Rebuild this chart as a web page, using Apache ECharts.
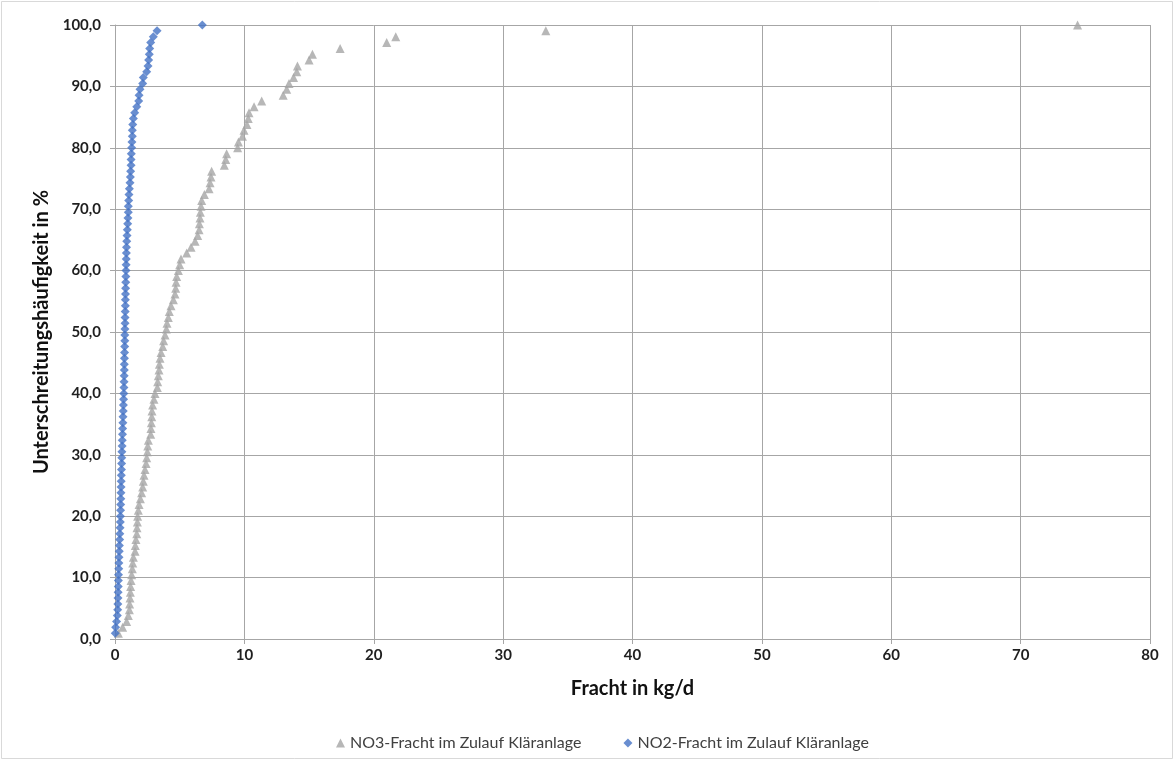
<!DOCTYPE html>
<html>
<head>
<meta charset="utf-8">
<script src="https://cdn.jsdelivr.net/npm/echarts@6/dist/echarts.min.js"></script>
<style>
html,body{margin:0;padding:0;background:#fff;}
#c{width:1174px;height:760px;}
</style>
</head>
<body>
<div id="c"></div>
<script>
// Percentile rank (Unterschreitungshäufigkeit in %) of each sorted sample
const percent = [0.95, 1.9, 2.86, 3.81, 4.76, 5.71, 6.67, 7.62, 8.57, 9.52,
  10.48, 11.43, 12.38, 13.33, 14.29, 15.24, 16.19, 17.14, 18.1, 19.05,
  20, 20.95, 21.9, 22.86, 23.81, 24.76, 25.71, 26.67, 27.62, 28.57,
  29.52, 30.48, 31.43, 32.38, 33.33, 34.29, 35.24, 36.19, 37.14, 38.1,
  39.05, 40, 40.95, 41.9, 42.86, 43.81, 44.76, 45.71, 46.67, 47.62,
  48.57, 49.52, 50.48, 51.43, 52.38, 53.33, 54.29, 55.24, 56.19, 57.14,
  58.1, 59.05, 60, 60.95, 61.9, 62.86, 63.81, 64.76, 65.71, 66.67,
  67.62, 68.57, 69.52, 70.48, 71.43, 72.38, 73.33, 74.29, 75.24, 76.19,
  77.14, 78.1, 79.05, 80, 80.95, 81.9, 82.86, 83.81, 84.76, 85.71,
  86.67, 87.62, 88.57, 89.52, 90.48, 91.43, 92.38, 93.33, 94.29, 95.24,
  96.19, 97.14, 98.1, 99.05, 100];

// NO3 load (kg/d), sorted
const no3 = [0.26, 0.59, 0.9, 1.03, 1.11, 1.13, 1.16, 1.19, 1.21, 1.24,
  1.29, 1.34, 1.37, 1.42, 1.55, 1.57, 1.62, 1.68, 1.70, 1.73,
  1.75, 1.80, 1.86, 1.96, 2.06, 2.14, 2.19, 2.24, 2.32, 2.40,
  2.45, 2.50, 2.53, 2.58, 2.76, 2.78, 2.81, 2.84, 2.86, 2.91,
  3.01, 3.09, 3.27, 3.30, 3.35, 3.40, 3.43, 3.48, 3.56, 3.69,
  3.76, 3.87, 3.97, 4.02, 4.12, 4.20, 4.33, 4.51, 4.64, 4.69,
  4.72, 4.77, 4.90, 5.00, 5.10, 5.54, 5.88, 6.19, 6.39, 6.50,
  6.52, 6.57, 6.60, 6.65, 6.70, 6.91, 7.27, 7.35, 7.42, 7.47,
  8.45, 8.56, 8.63, 9.48, 9.54, 9.85, 9.97, 10.20, 10.30, 10.36,
  10.75, 11.34, 13.00, 13.27, 13.45, 13.80, 14.05, 14.10, 15.00, 15.26,
  17.40, 21.00, 21.70, 33.30, 74.40];

// NO2 load (kg/d), sorted
const no2 = [0.02, 0.05, 0.12, 0.18, 0.21, 0.22, 0.23, 0.24, 0.25, 0.26,
  0.27, 0.29, 0.30, 0.31, 0.33, 0.34, 0.36, 0.37, 0.39, 0.41,
  0.42, 0.43, 0.44, 0.45, 0.46, 0.47, 0.48, 0.49, 0.50, 0.51,
  0.52, 0.53, 0.55, 0.56, 0.58, 0.59, 0.61, 0.62, 0.64, 0.65,
  0.66, 0.68, 0.69, 0.70, 0.71, 0.72, 0.72, 0.73, 0.74, 0.75,
  0.76, 0.76, 0.77, 0.78, 0.78, 0.79, 0.80, 0.80, 0.81, 0.82,
  0.83, 0.84, 0.85, 0.86, 0.87, 0.88, 0.89, 0.91, 0.93, 0.95,
  0.98, 1.00, 1.03, 1.03, 1.06, 1.08, 1.11, 1.16, 1.19, 1.21,
  1.24, 1.24, 1.26, 1.29, 1.31, 1.34, 1.34, 1.37, 1.42, 1.52,
  1.68, 1.83, 1.86, 1.93, 2.14, 2.19, 2.45, 2.55, 2.60, 2.65,
  2.68, 2.76, 2.96, 3.25, 6.75];

const seriesNames = ['NO3-Fracht im Zulauf Kläranlage', 'NO2-Fracht im Zulauf Kläranlage'];
const xAxisTitle = 'Fracht in kg/d';
const yAxisTitle = 'Unterschreitungshäufigkeit in %';

const pair = (xs) => xs.map((v, i) => [v, percent[i]]);
const FONT = 'Lato, "Open Sans", sans-serif';

const chart = echarts.init(document.getElementById('c'), null, {renderer: 'canvas'});
chart.setOption({
  animation: false,
  backgroundColor: '#ffffff',
  textStyle: {fontFamily: FONT},
  graphic: [{
    type: 'rect', silent: true, z: -10,
    shape: {x: 1.5, y: 1.5, width: 1171, height: 757},
    style: {fill: 'none', stroke: '#d9d9d9', lineWidth: 1}
  }],
  grid: {left: 115, right: 24, top: 25, bottom: 121, containLabel: false},
  xAxis: {
    type: 'value', min: 0, max: 80, interval: 10,
    name: xAxisTitle, nameLocation: 'middle', nameGap: 40,
    nameTextStyle: {fontFamily: FONT, fontSize: 20, fontWeight: 'bold', color: '#111111'},
    axisLine: {show: true, lineStyle: {color: '#a6a6a6', width: 1}},
    axisTick: {show: true, length: 5, lineStyle: {color: '#a6a6a6'}},
    axisLabel: {fontFamily: FONT, fontSize: 15, fontWeight: 'bold', color: '#1f1f1f', margin: 9},
    splitLine: {show: true, lineStyle: {color: '#a6a6a6', width: 1}}
  },
  yAxis: {
    type: 'value', min: 0, max: 100, interval: 10,
    name: yAxisTitle, nameLocation: 'middle', nameGap: 62, nameRotate: 90,
    nameTextStyle: {fontFamily: FONT, fontSize: 20, fontWeight: 'bold', color: '#111111'},
    axisLine: {show: true, lineStyle: {color: '#a6a6a6', width: 1}},
    axisTick: {show: true, length: 5, lineStyle: {color: '#a6a6a6'}},
    axisLabel: {fontFamily: FONT, fontSize: 15, fontWeight: 'bold', color: '#1f1f1f', margin: 14,
      formatter: (v) => v.toFixed(1).replace('.', ',')},
    splitLine: {show: true, lineStyle: {color: '#a6a6a6', width: 1}}
  },
  legend: {
    top: 730, left: 331, itemGap: 42, itemWidth: 9, itemHeight: 9,
    textStyle: {fontFamily: FONT, fontSize: 16, color: '#404040'},
    data: [
      {name: seriesNames[0], icon: 'triangle'},
      {name: seriesNames[1], icon: 'diamond'}
    ]
  },
  series: [
    {
      name: seriesNames[0], type: 'scatter', symbol: 'triangle', symbolSize: 9,
      itemStyle: {color: '#a5a5a5'}, data: pair(no3), z: 2
    },
    {
      name: seriesNames[1], type: 'scatter', symbol: 'diamond', symbolSize: 9,
      itemStyle: {color: '#4472c4'}, data: pair(no2), z: 3
    }
  ]
});
</script>
</body>
</html>
